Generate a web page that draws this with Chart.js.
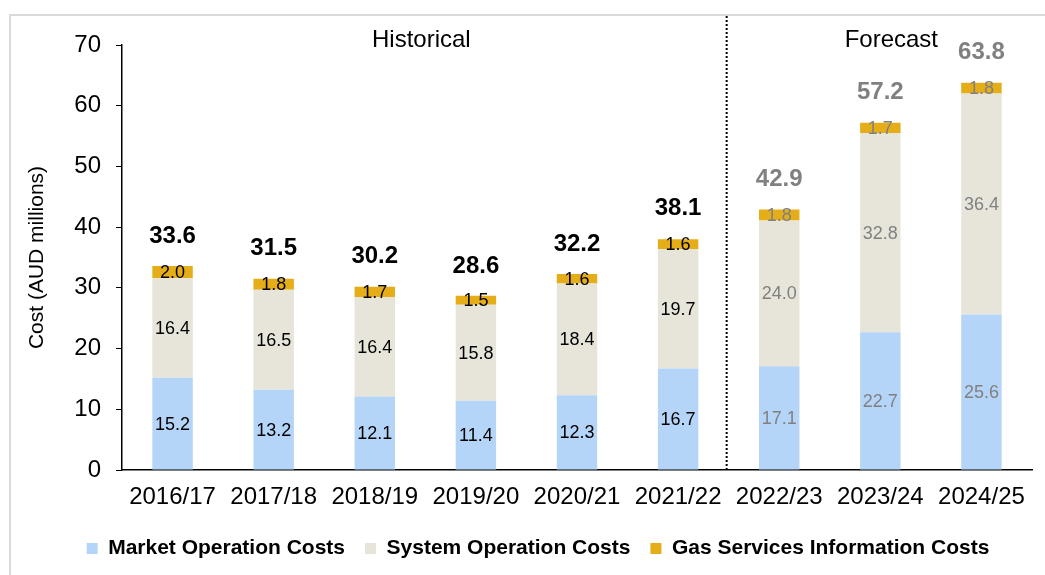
<!DOCTYPE html>
<html>
<head>
<meta charset="utf-8">
<script src="https://cdn.jsdelivr.net/npm/chart.js@4.4.1/dist/chart.umd.min.js"></script>
<style>
  html, body { margin: 0; padding: 0; background: #fff; }
  #wrap { width: 1045px; height: 575px; position: relative; }
</style>
</head>
<body>
<div id="wrap"><canvas id="c" width="1045" height="575"></canvas></div>
<script>
const categories = ['2016/17', '2017/18', '2018/19', '2019/20', '2020/21', '2021/22', '2022/23', '2023/24', '2024/25'];
const marketOperation = [15.2, 13.2, 12.1, 11.4, 12.3, 16.7, 17.1, 22.7, 25.6];
const systemOperation = [16.4, 16.5, 16.4, 15.8, 18.4, 19.7, 24.0, 32.8, 36.4];
const gasServices = [2.0, 1.8, 1.7, 1.5, 1.6, 1.6, 1.8, 1.7, 1.8];
const totals = [33.6, 31.5, 30.2, 28.6, 32.2, 38.1, 42.9, 57.2, 63.8];
const forecastStart = 6;
const periodLabels = ['Historical', 'Forecast'];

const FONT = '"Liberation Sans", Arial, sans-serif';
const HIST_COLOR = '#000000';
const FC_COLOR = '#808080';

const overlayPlugin = {
  id: 'overlay',
  afterLayout(chart) {
    if (chart.legend) {
      chart.legend.left += 17;
      chart.legend.right += 17;
    }
  },
  beforeDraw(chart) {
    const ctx = chart.ctx;
    ctx.save();
    ctx.fillStyle = '#ffffff';
    ctx.fillRect(0, 0, chart.width, chart.height);
    ctx.strokeStyle = '#d9d9d9';
    ctx.lineWidth = 2;
    ctx.strokeRect(10, 15, chart.width + 10, chart.height + 10);
    ctx.restore();
  },
  afterDatasetsDraw(chart) {
    const ctx = chart.ctx;
    const x = chart.scales.x;
    const y = chart.scales.y;
    ctx.save();
    const divX = (x.getPixelForValue(forecastStart - 1) + x.getPixelForValue(forecastStart)) / 2 - 2;
    ctx.strokeStyle = '#000';
    ctx.lineWidth = 2;
    ctx.setLineDash([2, 2]);
    ctx.beginPath();
    ctx.moveTo(divX, 16);
    ctx.lineTo(divX, y.bottom);
    ctx.stroke();
    ctx.setLineDash([]);

    ctx.fillStyle = '#000';
    ctx.font = '24px ' + FONT;
    ctx.textAlign = 'center';
    ctx.textBaseline = 'middle';
    const histX = (x.left + divX) / 2 - 3;
    const fcX = (divX + x.right) / 2 + 12;
    ctx.fillText(periodLabels[0], histX, 40);
    ctx.fillText(periodLabels[1], fcX, 40);

    ctx.font = '18px ' + FONT;
    chart.data.datasets.forEach((ds, di) => {
      const meta = chart.getDatasetMeta(di);
      meta.data.forEach((bar, i) => {
        const cy = (bar.y + bar.base) / 2;
        ctx.fillStyle = i >= forecastStart ? FC_COLOR : HIST_COLOR;
        ctx.fillText(ds.data[i].toFixed(1), bar.x, cy + 1);
      });
    });

    ctx.font = 'bold 24px ' + FONT;
    const topMeta = chart.getDatasetMeta(chart.data.datasets.length - 1);
    topMeta.data.forEach((bar, i) => {
      ctx.fillStyle = i >= forecastStart ? FC_COLOR : HIST_COLOR;
      ctx.fillText(totals[i].toFixed(1), bar.x, y.getPixelForValue(totals[i]) - 30);
    });
    ctx.restore();
  }
};

new Chart(document.getElementById('c'), {
  type: 'bar',
  data: {
    labels: categories,
    datasets: [
      { label: 'Market Operation Costs', data: marketOperation, backgroundColor: '#B4D5F8' },
      { label: 'System Operation Costs', data: systemOperation, backgroundColor: '#E7E5DA' },
      { label: 'Gas Services Information Costs', data: gasServices, backgroundColor: '#E5AD17' }
    ]
  },
  options: {
    responsive: false,
    animation: false,
    devicePixelRatio: 1,
    layout: { padding: { left: 10, top: 45, right: 13, bottom: 6 } },
    datasets: { bar: { barPercentage: 0.4, categoryPercentage: 1.0 } },
    plugins: {
      legend: {
        position: 'bottom',
        labels: {
          boxWidth: 11, boxHeight: 11, padding: 20,
          color: '#000',
          font: { family: FONT, size: 21, weight: 'bold' }
        }
      },
      tooltip: { enabled: false }
    },
    scales: {
      x: {
        stacked: true,
        grid: { display: false },
        border: { display: true, color: '#000', width: 1.5 },
        ticks: { color: '#000', font: { family: FONT, size: 24 }, padding: 5, maxRotation: 0 },
        afterFit(s) { s.height = 48; }
      },
      y: {
        stacked: true,
        min: 0, max: 70,
        grid: { drawOnChartArea: false, drawTicks: true, tickLength: 6, color: '#000' },
        border: { display: true, color: '#000', width: 1.5 },
        ticks: { stepSize: 10, color: '#000', font: { family: FONT, size: 24 }, padding: 15 },
        title: { display: true, text: 'Cost (AUD millions)', color: '#000', font: { family: FONT, size: 21 }, padding: { top: 15, bottom: 0 } },
        afterFit(s) { s.width = 112; }
      }
    }
  },
  plugins: [overlayPlugin]
});
</script>
</body>
</html>
